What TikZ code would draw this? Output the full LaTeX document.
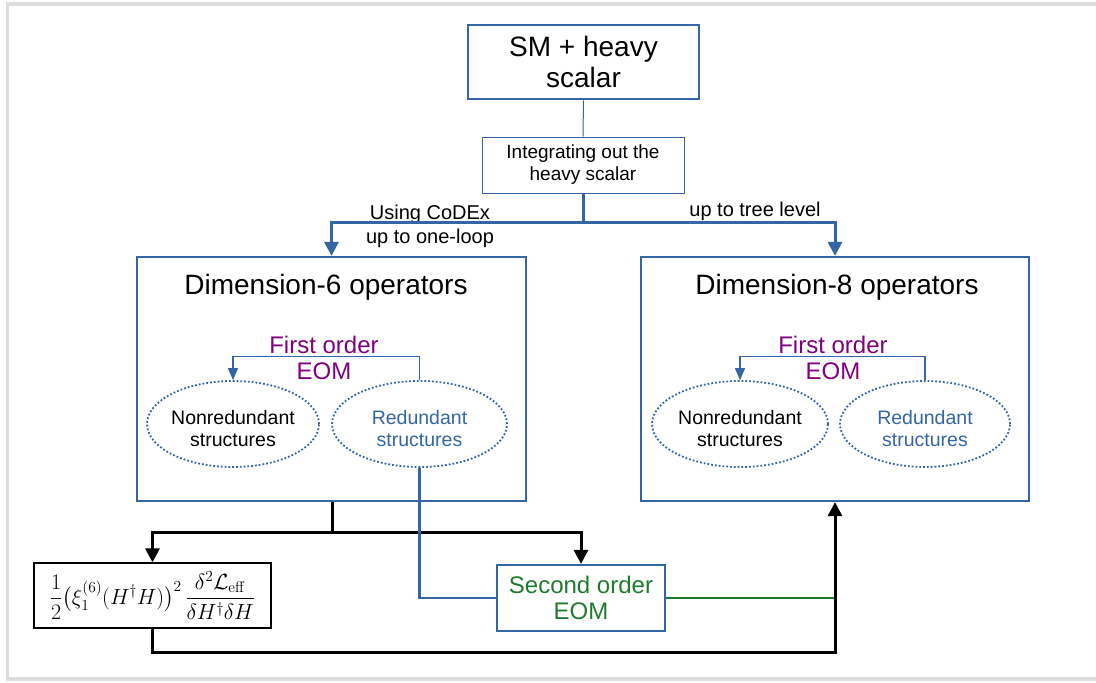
\documentclass[tikz,border=0pt]{standalone}
\usepackage[no-math]{fontspec}
\setmainfont{Liberation Sans}
\usepackage{amsmath}
\usepackage{fix-cm}
\usetikzlibrary{arrows.meta,shapes.geometric}
\definecolor{blueL}{HTML}{3465A4}
\definecolor{purpleL}{HTML}{800080}
\definecolor{greenL}{HTML}{1F7A2E}
\definecolor{frameG}{HTML}{DDDDDD}
\tikzset{
  bx/.style={draw=blueL, rectangle, inner sep=0pt, align=center},
  ell/.style={draw=blueL, ellipse, dotted, line width=1.8pt, inner sep=0pt,
              minimum height=86pt},
  elltxt/.style={align=center, inner sep=0pt, font=\fontsize{19.5}{22}\selectfont},
  bigarrow/.style={-{Triangle[width=14pt,length=14pt]}},
  smallarrow/.style={-{Triangle[width=10pt,length=12pt]}},
  lbl/.style={align=center, inner sep=0pt, font=\fontsize{20}{24}\selectfont},
}
\begin{document}
\begin{tikzpicture}[x=1pt,y=-1pt]
\useasboundingbox (0,0) rectangle (1096,683);
\draw[frameG, line width=3.5pt] (1110,4) -- (7.5,4) -- (7.5,679) -- (1110,679);

% nodes
\node[bx, line width=2.8pt, minimum width=231pt, minimum height=74pt,
      font=\fontsize{28}{31}\selectfont] (sm) at (583.5,62) {SM + heavy\\scalar};
\node[bx, line width=1pt, minimum width=202pt, minimum height=56pt,
      font=\fontsize{19}{22}\selectfont] (integ) at (583,165) {Integrating out the\\heavy scalar};
\node[bx, line width=2.2pt, minimum width=389pt, minimum height=244pt] (d6) at (331.5,379) {};
\node[bx, line width=2.2pt, minimum width=388pt, minimum height=244pt] (d8) at (835,379) {};
\node[inner sep=0pt, font=\fontsize{28}{31}\selectfont] (t6) at (326,287) {Dimension-6 operators};
\node[inner sep=0pt, font=\fontsize{28}{31}\selectfont] (t8) at (837,287) {Dimension-8 operators};

\node[lbl, text=purpleL, font=\fontsize{24}{26}\selectfont] (fo6) at (324,358) {First order\\EOM};
\node[lbl, text=purpleL, font=\fontsize{24}{26}\selectfont] (fo8) at (833,358) {First order\\EOM};

\node[ell, minimum width=172pt] (nr6) at (233,424) {};
\node[ell, minimum width=175pt] (r6) at (419.5,424) {};
\node[ell, minimum width=176pt] (nr8) at (740,424) {};
\node[ell, minimum width=170pt] (r8) at (925,424) {};
\node[elltxt] (nr6t) at (233,429) {Nonredundant\\structures};
\node[elltxt, text=blueL] (r6t) at (419.5,429) {Redundant\\structures};
\node[elltxt] (nr8t) at (740,429) {Nonredundant\\structures};
\node[elltxt, text=blueL] (r8t) at (925,429) {Redundant\\structures};

\node[draw=black, line width=1.3pt, minimum width=237pt, minimum height=65pt, inner sep=0pt,
      font=\fontsize{22}{26}\selectfont] (form) at (152.5,595.5)
  {$\displaystyle \frac{1}{2}\bigl(\xi_1^{(6)}(H^\dagger H)\bigr)^2\,\frac{\delta^2\mathcal{L}_{\mathrm{eff}}}{\delta H^\dagger\delta H}$};
\node[bx, line width=2.2pt, minimum width=168pt, minimum height=66pt, text=greenL,
      font=\fontsize{24}{26}\selectfont] (so) at (581,598) {Second order\\EOM};

% labels
\node[lbl] (lab1) at (430,226) {Using CoDEx\\up to one-loop};
\node[lbl] (lab2) at (755,211) {up to tree level};

% connectors
\draw[blueL, line width=1pt] (sm.south) -- (integ.north);
\draw[blueL, line width=3pt] (integ.south) -- ++(0,29) coordinate (j1);
\draw[blueL, line width=3pt, bigarrow] (j1) -| (d6.north);
\draw[blueL, line width=3pt, bigarrow] (j1) -| (d8.north);

\draw[blueL, line width=1.1pt, smallarrow] (r6.north) -- ++(0,-24) -| (nr6.north);
\draw[blueL, line width=1.1pt, smallarrow] (r8.north) -- ++(0,-24) -| (nr8.north);

\draw[black, line width=3pt] (d6.south -| 332,0) -- (332,532) coordinate (j2);
\draw[black, line width=3pt, bigarrow] (j2) -| (form.north);
\draw[black, line width=3pt, bigarrow] (j2) -| (so.north);

\draw[blueL, line width=2.2pt] (r6.south) |- (so.west);
\draw[greenL, line width=2.6pt] (so.east) -- (so.east -| d8.south);
\draw[black, line width=3pt, bigarrow] (form.south) -- ++(0,24) -| (d8.south);
\end{tikzpicture}
\end{document}
